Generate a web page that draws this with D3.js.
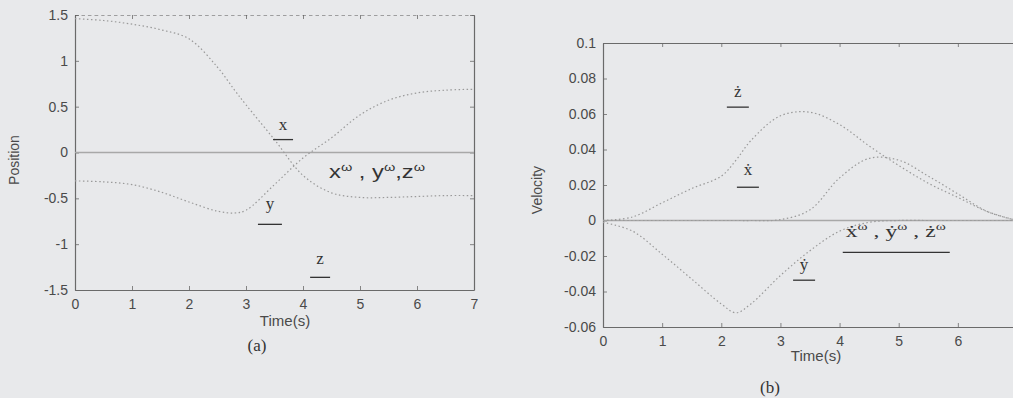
<!DOCTYPE html>
<html><head><meta charset="utf-8">
<script src="https://cdn.jsdelivr.net/npm/d3@7"></script>
<style>
html,body{margin:0;padding:0;background:#e8e9eb;}
svg{display:block;}
</style></head>
<body>
<svg id="c" width="1013" height="398"></svg>
<script>
// ---------- data: chart (a) Position ----------
const timeA = [0,0.5,1,1.5,2,2.5,2.8,3,3.5,4,4.5,5,5.5,6,6.5,7];
const posX  = [1.46,1.44,1.40,1.34,1.24,0.93,0.68,0.52,0.14,-0.25,-0.44,-0.49,-0.49,-0.48,-0.47,-0.47];
const posY  = [-0.31,-0.32,-0.35,-0.43,-0.54,-0.64,-0.66,-0.63,-0.35,-0.06,0.16,0.41,0.57,0.65,0.68,0.69];
const posZ  = [1.5,1.5,1.5,1.5,1.5,1.5,1.5,1.5,1.5,1.5,1.5,1.5,1.5,1.5,1.5,1.5];
const posW  = [0,0,0,0,0,0,0,0,0,0,0,0,0,0,0,0];
const ticksAy = [1.5,1,0.5,0,-0.5,-1,-1.5];
const ticksAx = [0,1,2,3,4,5,6,7];

// ---------- data: chart (b) Velocity ----------
const timeB = [0,0.5,1,1.5,2,2.25,2.5,3,3.5,4,4.5,5,5.5,6,6.5,7];
const velZ  = [0,0.002,0.010,0.018,0.025,0.034,0.045,0.059,0.061,0.054,0.042,0.031,0.021,0.013,0.005,0];
const velX  = [0,0,0,0,0,0,0,0.0005,0.006,0.024,0.035,0.034,0.025,0.015,0.005,0];
const velY  = [-0.001,-0.006,-0.019,-0.033,-0.047,-0.052,-0.047,-0.031,-0.017,-0.006,-0.001,0,0,0,0,0];
const velW  = [0,0,0,0,0,0,0,0,0,0,0,0,0,0,0,0];
const ticksBy = [0.1,0.08,0.06,0.04,0.02,0,-0.02,-0.04,-0.06];
const ticksBx = [0,1,2,3,4,5,6];

const svg = d3.select("#c");
const sans = "'Liberation Sans', Arial, sans-serif";
const serif = "'Liberation Serif', 'Times New Roman', serif";
const frameCol = "#6a6a6a", txtCol = "#4a4a4a", curveCol = "#9a9a9a";

function panel(opt){
  const x = d3.scaleLinear().domain([0,7]).range(opt.xr);
  const y = d3.scaleLinear().domain(opt.yd).range(opt.yr);
  const g = svg.append("g");
  const clipId = "clip"+opt.id;
  svg.append("clipPath").attr("id",clipId).append("rect")
    .attr("x",opt.xr[0]).attr("y",opt.yr[1]).attr("width",opt.xr[1]-opt.xr[0]).attr("height",opt.yr[0]-opt.yr[1]);

  // axes (inward ticks, matlab style)
  const ax = d3.axisBottom(x).tickValues(opt.tx).tickSizeInner(-4).tickSizeOuter(0).tickPadding(9).tickFormat(d3.format("d"));
  const ay = d3.axisLeft(y).tickValues(opt.ty).tickSizeInner(-4).tickSizeOuter(0).tickPadding(7).tickFormat(d=>String(d));
  const axT = d3.axisTop(x).tickValues(opt.tx).tickSizeInner(-4).tickSizeOuter(0).tickFormat("");
  const ayR = d3.axisRight(y).tickValues(opt.ty).tickSizeInner(-4).tickSizeOuter(0).tickFormat("");
  const gx = g.append("g").attr("transform",`translate(0,${opt.yr[0]})`).call(ax);
  const gy = g.append("g").attr("transform",`translate(${opt.xr[0]},0)`).call(ay);
  const gxt = g.append("g").attr("transform",`translate(0,${opt.yr[1]})`).call(axT);
  const gyr = g.append("g").attr("transform",`translate(${opt.xr[1]},0)`).call(ayR);
  [gx,gy,gxt,gyr].forEach(a=>{
    a.selectAll(".domain").attr("stroke",frameCol).attr("stroke-width",1.2);
    a.selectAll(".tick line").attr("stroke",frameCol).attr("stroke-width",0.8);
    a.selectAll("text").attr("fill",txtCol).style("font-family",sans).style("font-size","14px");
  });
  if(opt.hideTop) gxt.select(".domain").remove();

  const line = d3.line().x((d,i)=>x(opt.t[i])).y(d=>y(d)).curve(d3.curveCatmullRom.alpha(0.5));
  const cg = g.append("g").attr("clip-path",`url(#${clipId})`);
  opt.series.forEach(s=>{
    cg.append("path").datum(s.v).attr("d",line).attr("fill","none")
      .attr("stroke",s.c||curveCol).attr("stroke-width",s.w||1.2)
      .attr("stroke-dasharray",s.dash||null);
  });
  // axis labels
  g.append("text").attr("x",opt.xlab[0]).attr("y",opt.xlab[1]).attr("text-anchor","middle")
    .attr("fill",txtCol).style("font-family",sans).style("font-size","15px").text("Time(s)");
  g.append("text").attr("transform",`translate(${opt.ylab[0]},${opt.ylab[1]}) rotate(-90)`).attr("text-anchor","middle")
    .attr("fill",txtCol).style("font-family",sans).style("font-size","14px").text(opt.ylabel);
  g.append("text").attr("x",opt.cap[0]).attr("y",opt.cap[1]).attr("text-anchor","middle")
    .attr("fill","#333").style("font-family",serif).style("font-size","17px").text(opt.caption);
  // curve labels with underline
  opt.labels.forEach(l=>{
    const tx = g.append("text").attr("x",x(l.t)).attr("y",y(l.v)).attr("text-anchor","middle")
      .attr("fill","#333").style("font-family",l.sans?sans:serif).style("font-size",(l.fs||17)+"px");
    if(l.len) tx.attr("textLength",l.len).attr("lengthAdjust","spacingAndGlyphs");
    l.parts.forEach(p=>{
      const ts = tx.append("tspan").text(p[0]);
      if(p[1]) ts.attr("dy",p[1]).style("font-size",(p[2]||11)+"px");
    });
    if(l.ul){
      g.append("line").attr("x1",x(l.t)+l.ul[0]).attr("x2",x(l.t)+l.ul[1])
        .attr("y1",y(l.v)+l.ul[2]).attr("y2",y(l.v)+l.ul[2]).attr("stroke","#333").attr("stroke-width",1.3);
    }
  });
  return {x,y};
}

panel({
  id:"A", xr:[75,474], yr:[290,15], yd:[-1.5,1.5], tx:ticksAx, ty:ticksAy, t:timeA, hideTop:true,
  series:[
    {v:posW, c:"#a8a8a8", w:1.6},
    {v:posX, dash:"1.5,2.5"},
    {v:posY, dash:"1.5,2.5"},
    {v:posZ, c:"#555", w:1.1, dash:"3.5,3"}
  ],
  xlab:[285,326], ylab:[19,160], ylabel:"Position", cap:[257,351], caption:"(a)",
  labels:[
    {t:3.65, v:0.25, parts:[["x"]], ul:[-10,10,10]},
    {t:3.42, v:-0.62, parts:[["y"]], ul:[-12,12,15]},
    {t:4.3, v:-1.22, parts:[["z"]], ul:[-10,10,13]},
    {t:5.3, v:-0.28, fs:18, sans:true, len:96, parts:[["x"],["ω","-7",11],[" , y","7",18],["ω","-7",11],[",z","7",18],["ω","-7",11]]}
  ]
});

panel({
  id:"B", xr:[603,1017], yr:[327,43], yd:[-0.06,0.1], tx:ticksBx, ty:ticksBy, t:timeB,
  series:[
    {v:velW, c:"#a8a8a8", w:1.6},
    {v:velZ, dash:"1.5,2.5"},
    {v:velX, dash:"1.5,2.5"},
    {v:velY, dash:"1.5,2.5"}
  ],
  xlab:[816,361], ylab:[542,190], ylabel:"Velocity", cap:[770,393], caption:"(b)",
  labels:[
    {t:2.28, v:0.0695, parts:[["ż"]], ul:[-11,11,10]},
    {t:2.45, v:0.0255, parts:[["ẋ"]], ul:[-11,11,12]},
    {t:3.4, v:-0.028, parts:[["ẏ"]], ul:[-11,11,10]},
    {t:4.95, v:-0.0095, fs:17, len:100, parts:[["ẋ"],["ω","-7",11],[" , ẏ","7",17],["ω","-7",11],[" , ż","7",17],["ω","-7",11]], ul:[-53,54,15]}
  ]
});
</script>
</body></html>
